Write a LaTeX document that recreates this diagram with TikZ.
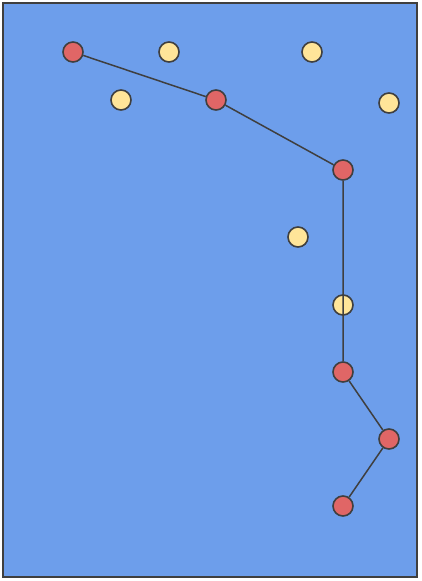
\documentclass[tikz,border=0pt]{standalone}
\definecolor{bgblue}{HTML}{6D9EEB}
\definecolor{nred}{HTML}{E06666}
\definecolor{nyel}{HTML}{FFE599}
\definecolor{ink}{HTML}{3F3F3F}
\tikzset{
  rdot/.style={circle,draw=ink,fill=nred,line width=1.6pt,minimum size=20pt,inner sep=0pt},
  ydot/.style={circle,draw=ink,fill=nyel,line width=1.6pt,minimum size=20pt,inner sep=0pt},
  link/.style={draw=ink,line width=1.5pt}
}
\begin{document}
\begin{tikzpicture}[x=1pt,y=-1pt]
\useasboundingbox (0,0) rectangle (421,581);
\draw[ink,fill=bgblue,line width=1.8pt] (3,3) rectangle (417,577);
\node[ydot] (y1) at (169,52) {};
\node[ydot] (y2) at (312,52) {};
\node[ydot] (y3) at (121,100) {};
\node[ydot] (y4) at (389,103) {};
\node[ydot] (y5) at (298,237) {};
\node[ydot] (y6) at (343,305) {};
\node[rdot] (r1) at (73,52) {};
\node[rdot] (r2) at (216,100) {};
\node[rdot] (r3) at (343,170) {};
\node[rdot] (r4) at (343,372) {};
\node[rdot] (r5) at (389,439) {};
\node[rdot] (r6) at (343,506) {};
\draw[link] (r1) -- (r2) -- (r3) -- (r4) -- (r5) -- (r6);
\end{tikzpicture}
\end{document}
